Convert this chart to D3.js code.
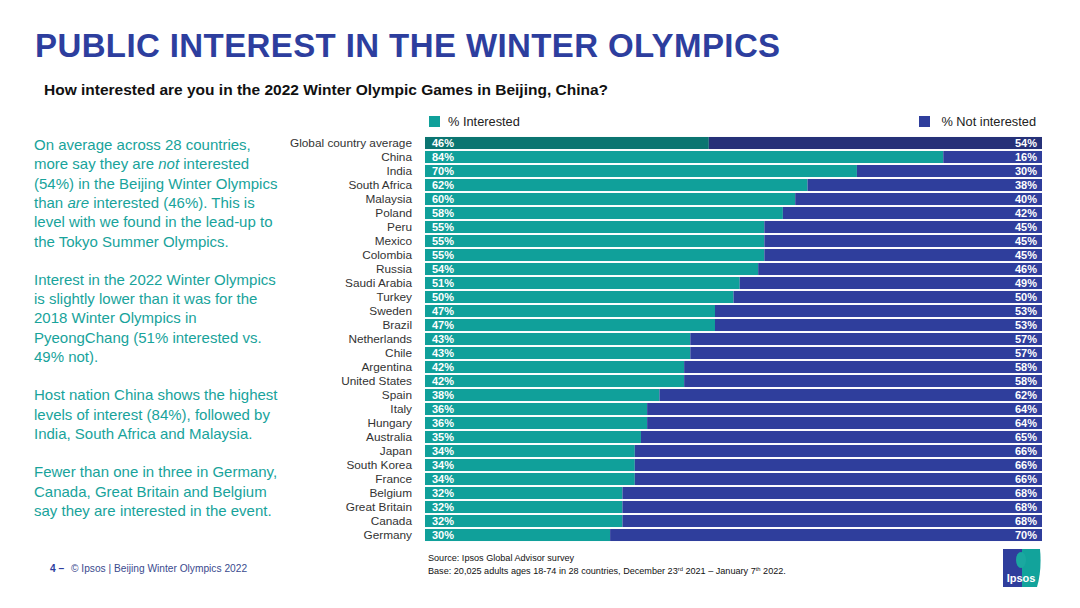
<!DOCTYPE html>
<html>
<head>
<meta charset="utf-8">
<script src="https://cdn.jsdelivr.net/npm/d3@7"></script>
<style>
  html,body{margin:0;padding:0;background:#fff;}
  svg{display:block;font-family:"Liberation Sans",Arial,sans-serif;}
</style>
</head>
<body>
<div id="chart"></div>
<script>
// data
const countries = ['Global country average','China','India','South Africa','Malaysia','Poland','Peru','Mexico','Colombia','Russia','Saudi Arabia','Turkey','Sweden','Brazil','Netherlands','Chile','Argentina','United States','Spain','Italy','Hungary','Australia','Japan','South Korea','France','Belgium','Great Britain','Canada','Germany'];
const interested    = [46,84,70,62,60,58,55,55,55,54,51,50,47,47,43,43,42,42,38,36,36,35,34,34,34,32,32,32,30];
const notInterested = [54,16,30,38,40,42,45,45,45,46,49,50,53,53,57,57,58,58,62,64,64,65,66,66,66,68,68,68,70];
const seriesNames = ['% Interested','% Not interested'];

const paragraphs = [
  [[['On average across 28 countries,']],[['more say they are '],['not',1],[' interested']],[['(54%) in the Beijing Winter Olympics']],[['than '],['are',1],[' interested (46%). This is']],[['level with we found in the lead-up to']],[['the Tokyo Summer Olympics.']]],
  [[['Interest in the 2022 Winter Olympics']],[['is slightly lower than it was for the']],[['2018 Winter Olympics in']],[['PyeongChang (51% interested vs.']],[['49% not).']]],
  [[['Host nation China shows the highest']],[['levels of interest (84%), followed by']],[['India, South Africa and Malaysia.']]],
  [[['Fewer than one in three in Germany,']],[['Canada, Great Britain and Belgium']],[['say they are interested in the event.']]]
];

const W = 1080, H = 608;
const TEAL = '#10a09a', TEAL_D = '#0b7571', NAVY = '#2f3e9c', NAVY_D = '#263178', TXT = '#18a39b';

const svg = d3.select('#chart').append('svg').attr('width',W).attr('height',H);

// title + question
svg.append('text').attr('x',35).attr('y',57)
  .style('font-size','33px').style('font-weight','700').style('fill','#2d3e9e').style('letter-spacing','0.4px')
  .text('PUBLIC INTEREST IN THE WINTER OLYMPICS');
svg.append('text').attr('x',44).attr('y',95)
  .style('font-size','15.5px').style('font-weight','700').style('fill','#111')
  .text('How interested are you in the 2022 Winter Olympic Games in Beijing, China?');

// left commentary
let ly = 150;
paragraphs.forEach(p => {
  p.forEach(line => {
    const t = svg.append('text').attr('x',34).attr('y',ly)
      .style('font-size','15px').style('fill',TXT);
    line.forEach(seg => t.append('tspan').style('font-style',seg[1]?'italic':'normal').text(seg[0]));
    ly += 19.3;
  });
  ly += 19;
});

// scales
const x = d3.scaleLinear().domain([0,100]).range([425,1042]);
const y = d3.scaleBand().domain(countries).range([136,136+countries.length*14]).paddingInner(0.14).paddingOuter(0.07);

const rows = svg.append('g').selectAll('g').data(countries).join('g')
  .attr('transform',d=>`translate(0,${y(d)})`);

rows.append('rect').attr('x',x(0)).attr('width',(d,i)=>x(interested[i])-x(0))
  .attr('height',y.bandwidth()).attr('fill',(d,i)=>i===0?TEAL_D:TEAL);
rows.append('rect').attr('x',(d,i)=>x(interested[i])).attr('width',(d,i)=>x(100)-x(interested[i]))
  .attr('height',y.bandwidth()).attr('fill',(d,i)=>i===0?NAVY_D:NAVY);

rows.append('text').attr('x',x(0)-13).attr('y',y.bandwidth()/2).attr('dy','0.36em')
  .attr('text-anchor','end').style('font-size','11.8px').style('fill','#333').text(d=>d);
rows.append('text').attr('x',x(0)+7).attr('y',y.bandwidth()/2).attr('dy','0.37em')
  .style('font-size','11px').style('font-weight','700').style('fill','#fff').text((d,i)=>interested[i]+'%');
rows.append('text').attr('x',x(100)-5).attr('y',y.bandwidth()/2).attr('dy','0.37em')
  .attr('text-anchor','end').style('font-size','11px').style('font-weight','700').style('fill','#fff').text((d,i)=>notInterested[i]+'%');

// legend
const lg = svg.append('g');
lg.append('rect').attr('x',429).attr('y',116).attr('width',11).attr('height',11).attr('fill',TEAL);
lg.append('text').attr('x',448).attr('y',121.5).attr('dy','0.36em').style('font-size','12.8px').style('fill','#222').text(seriesNames[0]);
lg.append('rect').attr('x',919).attr('y',116).attr('width',11).attr('height',11).attr('fill',NAVY);
lg.append('text').attr('x',1036).attr('y',121.5).attr('dy','0.36em').attr('text-anchor','end').style('font-size','12.8px').style('fill','#222').text(seriesNames[1]);

// footer
const ft = svg.append('text').attr('x',50).attr('y',572).style('font-size','10.2px');
ft.append('tspan').style('font-weight','700').style('fill','#2d3e9e').text('4 – ');
ft.append('tspan').attr('dx',4).style('fill','#3a4a8e').text('© Ipsos | Beijing Winter Olympics 2022');

svg.append('text').attr('x',428).attr('y',561).style('font-size','9.1px').style('fill','#111').text('Source: Ipsos Global Advisor survey');
const base = svg.append('text').attr('x',428).attr('y',574).style('font-size','9.1px').style('fill','#111');
base.append('tspan').text('Base: 20,025 adults ages 18-74 in 28 countries, December 23');
base.append('tspan').attr('dy',-3).style('font-size','5.8px').text('rd');
base.append('tspan').attr('dy',3).text(' 2021 – January 7');
base.append('tspan').attr('dy',-3).style('font-size','5.8px').text('th');
base.append('tspan').attr('dy',3).text(' 2022.');

// Ipsos logo
const defs = svg.append('defs');
const gr = defs.append('linearGradient').attr('id','lg').attr('x1','0').attr('x2','1');
gr.append('stop').attr('offset','0.5').attr('stop-color','#2f3e9c');
gr.append('stop').attr('offset','0.5').attr('stop-color','#12a39b');
svg.append('path').attr('d','M1003,549 L1040,549 Q1042,570 1037,587 L1003,587 Z').attr('fill','url(#lg)');
svg.append('ellipse').attr('cx',1021).attr('cy',560).attr('rx',5).attr('ry',8).attr('fill','#1aa8a0');
svg.append('text').attr('x',1021).attr('y',582).attr('text-anchor','middle')
  .style('font-size','11px').style('font-weight','700').style('fill','#fff').text('Ipsos');
</script>
</body>
</html>
